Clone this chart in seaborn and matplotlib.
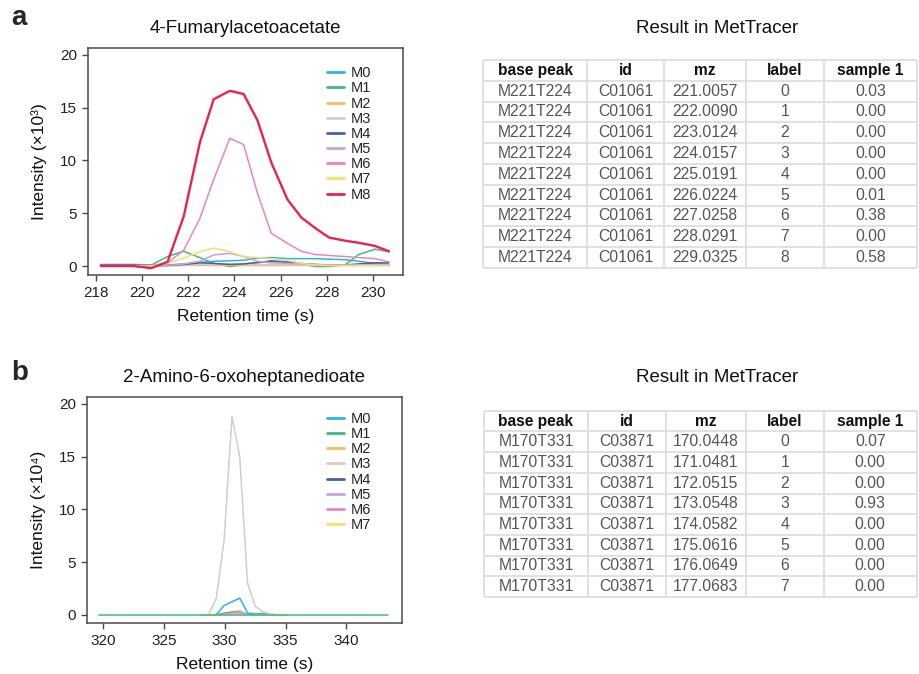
import numpy as np
import pandas as pd
import matplotlib
matplotlib.use("Agg")
import matplotlib.pyplot as plt
from matplotlib.lines import Line2D
import matplotlib.colors as mcolors
import seaborn as sns

# ---------------- data ----------------
iso_a = ["M0", "M1", "M2", "M3", "M4", "M5", "M6", "M7", "M8"]
time_a = [218.2, 218.9, 219.6, 220.4, 221.1, 221.8, 222.5, 223.1, 223.8, 224.4,
          225.0, 225.6, 226.3, 226.9, 227.5, 228.1, 228.8, 229.4, 230.1, 230.7]
a_M0 = [0.15, 0.15, 0.15, 0.1, 0.1, 0.2, 0.35, 0.45, 0.5, 0.55, 0.75, 0.8, 0.7, 0.7, 0.7, 0.65, 0.6, 0.45, 0.25, 0.15]
a_M1 = [0.05, 0.05, 0.05, 0.1, 0.9, 1.4, 0.8, 0.25, -0.05, 0.1, 0.3, 0.5, 0.4, 0.2, -0.05, -0.05, 0.1, 1.1, 1.6, 1.35]
a_M2 = [0.0, 0.0, 0.0, 0.0, 0.02, 0.05, 0.05, 0.05, 0.05, 0.05, 0.05, 0.05, 0.05, 0.05, 0.05, 0.05, 0.05, 0.05, 0.05, 0.05]
a_M3 = [0.05, 0.05, 0.05, 0.05, 0.05, 0.1, 0.15, 0.2, 0.2, 0.2, 0.15, 0.15, 0.15, 0.1, 0.1, 0.1, 0.1, 0.1, 0.1, 0.1]
a_M4 = [0.1, 0.1, 0.1, 0.05, 0.05, 0.15, 0.3, 0.25, 0.15, 0.2, 0.35, 0.45, 0.35, 0.25, 0.15, 0.1, 0.1, 0.2, 0.3, 0.3]
a_M5 = [0.0, 0.0, 0.0, 0.0, 0.05, 0.2, 0.45, 1.05, 1.2, 0.9, 0.45, 0.3, 0.25, 0.2, 0.15, 0.1, 0.1, 0.1, 0.1, 0.1]
a_M6 = [0.05, 0.05, 0.05, 0.05, 0.3, 1.5, 4.5, 8.2, 12.1, 11.5, 6.9, 3.1, 2.15, 1.4, 1.1, 1.0, 0.9, 0.8, 0.7, 0.4]
a_M7 = [0.0, 0.0, 0.0, 0.0, 0.25, 0.75, 1.35, 1.7, 1.35, 0.9, 0.8, 0.7, 0.55, 0.25, 0.1, 0.05, 0.05, 0.05, 0.05, 0.05]
a_M8 = [0.0, 0.0, 0.0, -0.2, 0.4, 4.7, 11.7, 15.8, 16.6, 16.3, 13.8, 9.8, 6.3, 4.6, 3.6, 2.7, 2.4, 2.2, 1.9, 1.4]

iso_b = ["M0", "M1", "M2", "M3", "M4", "M5", "M6", "M7"]
time_b_full = [319.70, 320.34, 320.98, 321.62, 322.26, 322.91, 323.55, 324.19, 324.83, 325.47,
               326.11, 326.75, 327.39, 328.03, 328.67, 329.32, 329.96, 330.60, 331.24, 331.88,
               332.52, 333.16, 333.80, 334.44, 335.08, 335.73, 336.37, 337.01, 337.65, 338.29,
               338.93, 339.57, 340.21, 340.85, 341.49, 342.14, 342.78, 343.42]
b_M1 = [0.0] * 38
time_b_peak = [328.03, 328.67, 329.32, 329.96, 330.60, 331.24, 331.88, 332.52, 333.16, 333.80, 334.44, 335.08]
b_M0 = [0.0, 0.0, 0.05, 0.9, 1.25, 1.6, 0.2, 0.1, 0.15, 0.05, 0.0, 0.0]
b_M2 = [0.0, 0.0, 0.0, 0.15, 0.3, 0.4, 0.05, 0.0, 0.0, 0.0, 0.0, 0.0]
b_M3 = [0.0, 0.0, 1.6, 7.2, 18.8, 15.0, 3.0, 0.8, 0.3, 0.1, 0.0, 0.0]
b_M4 = [0.0, 0.0, 0.0, 0.15, 0.25, 0.25, 0.05, 0.0, 0.0, 0.0, 0.0, 0.0]
b_M5 = [0.0, 0.0, 0.0, 0.1, 0.2, 0.3, 0.05, 0.0, 0.0, 0.0, 0.0, 0.0]
b_M6 = [0.0, 0.0, 0.0, 0.05, 0.1, 0.1, 0.02, 0.0, 0.0, 0.0, 0.0, 0.0]
b_M7 = [0.0, 0.0, 0.0, 0.02, 0.05, 0.05, 0.0, 0.0, 0.0, 0.0, 0.0, 0.0]

table_header = ["base peak", "id", "mz", "label", "sample 1"]
ta_base = ["M221T224"] * 9
ta_id = ["C01061"] * 9
ta_mz = ["221.0057", "222.0090", "223.0124", "224.0157", "225.0191", "226.0224", "227.0258", "228.0291", "229.0325"]
ta_label = ["0", "1", "2", "3", "4", "5", "6", "7", "8"]
ta_sample = ["0.03", "0.00", "0.00", "0.00", "0.00", "0.01", "0.38", "0.00", "0.58"]
tb_base = ["M170T331"] * 8
tb_id = ["C03871"] * 8
tb_mz = ["170.0448", "171.0481", "172.0515", "173.0548", "174.0582", "175.0616", "176.0649", "177.0683"]
tb_label = ["0", "1", "2", "3", "4", "5", "6", "7"]
tb_sample = ["0.07", "0.00", "0.00", "0.93", "0.00", "0.00", "0.00", "0.00"]

xticks_a = [218, 220, 222, 224, 226, 228, 230]
xticks_b = [320, 325, 330, 335, 340]
yticks = [0, 5, 10, 15, 20]

# ---------------- style ----------------
sns.set_style("ticks")
plt.rcParams["font.family"] = ["Liberation Sans", "DejaVu Sans"]
palette = {"M0": "#27B4EE", "M1": "#3DBB84", "M2": "#F8B86A", "M3": "#D3CCCC",
           "M4": "#4560A8", "M5": "#C7A3D6", "M6": "#E985BD", "M7": "#FDDA72", "M8": "#E9224F"}
frame_c = "#4a4a4a"

W, H = 919, 674
fig = plt.figure(figsize=(W / 100, H / 100), dpi=100)


def px_axes(x0, y0, x1, y1):
    return fig.add_axes([x0 / W, 1 - y1 / H, (x1 - x0) / W, (y1 - y0) / H])


def style_axes(ax, xt, xlim, ylim, title, ylabel):
    ax.set_xlim(*xlim)
    ax.set_ylim(*ylim)
    ax.set_xticks(xt)
    ax.set_yticks(yticks)
    for s in ax.spines.values():
        s.set_visible(True)
        s.set_color(frame_c)
        s.set_linewidth(1.1)
    ax.tick_params(axis="both", direction="out", length=4.3, width=1.0, color=frame_c,
                   labelsize=11, labelcolor="#222222", pad=3.5)
    ax.set_title(title, fontsize=13.5, pad=10.8, color="#111111")
    ax.set_xlabel("Retention time (s)", fontsize=12.5, color="#111111")
    ax.set_ylabel(ylabel, fontsize=12.5, color="#111111")
    ax.xaxis.set_label_coords(0.5, -0.15)
    ax.yaxis.set_label_coords(-0.13, 0.5)


def add_legend(names, top_px):
    handles = [Line2D([], [], color=palette[n], lw=2.0) for n in names]
    fig.legend(handles, names, loc="upper left", bbox_to_anchor=(327 / W, 1 - top_px / H),
               frameon=False, fontsize=10.5, handlelength=1.15, handletextpad=0.5,
               labelspacing=0.08, borderpad=0, borderaxespad=0)


# ---------------- panel a ----------------
ax_a = px_axes(88, 48, 403, 275)
recs = []
for n, vals in zip(iso_a, [a_M0, a_M1, a_M2, a_M3, a_M4, a_M5, a_M6, a_M7, a_M8]):
    for t, v in zip(time_a, vals):
        recs.append((t, v, n))
df_a = pd.DataFrame(recs, columns=["time", "intensity", "isotope"])
sizes_a = {n: 1.1 for n in iso_a}
sizes_a["M8"] = 1.7
sns.lineplot(data=df_a, x="time", y="intensity", hue="isotope", size="isotope",
             hue_order=iso_a, size_order=iso_a, sizes=sizes_a, palette=palette,
             estimator=None, sort=False, legend=False, ax=ax_a)
style_axes(ax_a, xticks_a, (217.65, 231.31), (-0.85, 20.66),
           "4-Fumarylacetoacetate", "Intensity (×10³)")
add_legend(iso_a, 66.3)

# ---------------- panel b ----------------
ax_b = px_axes(87, 397, 402, 623)
recs = []
for t, v in zip(time_b_full, b_M1):
    recs.append((t, v, "M1"))
for n, vals in zip(["M0", "M2", "M3", "M4", "M5", "M6", "M7"],
                   [b_M0, b_M2, b_M3, b_M4, b_M5, b_M6, b_M7]):
    for t, v in zip(time_b_peak, vals):
        recs.append((t, v, n))
df_b = pd.DataFrame(recs, columns=["time", "intensity", "isotope"])
sns.lineplot(data=df_b, x="time", y="intensity", hue="isotope", hue_order=iso_b,
             palette={k: palette[k] for k in iso_b}, estimator=None, sort=False,
             legend=False, linewidth=1.1, ax=ax_b)
green = mcolors.to_rgba(palette["M1"])
for ln in ax_b.lines:
    if np.allclose(mcolors.to_rgba(ln.get_color()), green):
        ln.set_zorder(1.5)
for ln in ax_b.lines:
    if not np.allclose(mcolors.to_rgba(ln.get_color()), green):
        ln.set_zorder(1.4)
style_axes(ax_b, xticks_b, (318.69, 344.57), (-0.76, 20.66),
           "2-Amino-6-oxoheptanedioate", "Intensity (×10⁴)")
add_legend(iso_b, 412.0)

# panel letters
fig.text(11 / W, 1 - 25 / H, "a", fontsize=20, fontweight="bold", va="baseline")
fig.text(11 / W, 1 - 380 / H, "b", fontsize=20, fontweight="bold", va="baseline")

# ---------------- tables ----------------
tax = fig.add_axes([0, 0, 1, 1], zorder=-1)
tax.set_xlim(0, W)
tax.set_ylim(H, 0)
tax.axis("off")
grid_c = "#dedede"


def draw_table(cols, top, rh, columns, title_y):
    nrows = len(columns[0]) + 1
    bottom = top + rh * nrows
    for x in cols:
        tax.plot([x, x], [top, bottom], color=grid_c, lw=1.3, solid_capstyle="butt")
    for r in range(nrows + 1):
        y = top + r * rh
        tax.plot([cols[0], cols[-1]], [y, y], color=grid_c, lw=1.3, solid_capstyle="butt")
    for c in range(len(cols) - 1):
        cx = (cols[c] + cols[c + 1]) / 2
        tax.text(cx, top + rh / 2, table_header[c], ha="center", va="center",
                 fontsize=11.2, color="#111111", fontweight="bold")
        for r, val in enumerate(columns[c]):
            tax.text(cx, top + rh * (r + 1.5), val, ha="center", va="center",
                     fontsize=11.3, color="#555555")
    tax.text(717, title_y, "Result in MetTracer", ha="center", va="baseline",
             fontsize=13.5, color="#111111")


draw_table([483, 587, 664, 746, 824, 917], 60, 20.8,
           [ta_base, ta_id, ta_mz, ta_label, ta_sample], 33)
draw_table([484, 588, 665.5, 746, 823.5, 917], 410.7, 20.7,
           [tb_base, tb_id, tb_mz, tb_label, tb_sample], 382)

fig.savefig("out.png", dpi=100)
